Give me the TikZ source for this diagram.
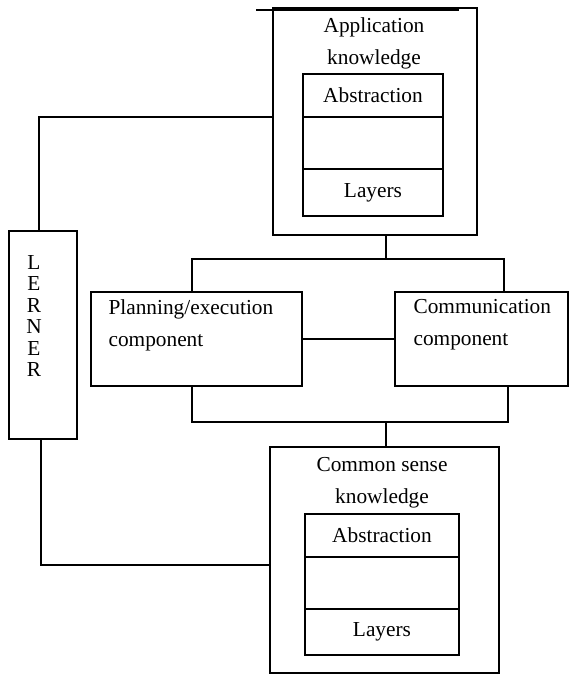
\documentclass[tikz,border=0pt]{standalone}
\usepackage{fontspec}
\setmainfont{Liberation Serif}
\usetikzlibrary{positioning}

\begin{document}
\begin{tikzpicture}[x=0.75pt, y=-0.75pt, line width=0.8pt,
    box/.style={draw, rectangle, inner sep=0pt},
    cell/.style={draw, rectangle, inner sep=0pt, outer sep=0pt, minimum width=#1},
    txt/.style={font=\fontsize{16}{24}\selectfont, inner sep=0pt}]
    \useasboundingbox (0,0) rectangle (570,675);

    % application knowledge
    \node[box, minimum width=153pt, minimum height=170.25pt] (app) at (375,121.5) {};
    \node[txt, align=center] (apptitle) at (374,43) {Application\\knowledge};
    \node[cell=105pt, minimum height=32.25pt, txt] (absA) at (373,95.5) {Abstraction};
    \node[cell=105pt, minimum height=39pt, below=0pt of absA] (midA) {};
    \node[cell=105pt, minimum height=35.25pt, txt, below=0pt of midA] (layA) {Layers};
    \coordinate (tlA) at (256,10);
    \coordinate (tlB) at (459,10);
    \draw[line width=1.6pt] (tlA) -- (tlB);

    % learner
    \node[box, minimum width=51pt, minimum height=156pt] (lrn) at (43,335) {};
    \node[txt, font=\fontsize{16}{16.1}\selectfont, align=center] (lrntxt) at (34,316) {L\\E\\R\\N\\E\\R};

    % components
    \node[box, minimum width=158.25pt, minimum height=70.5pt] (plan) at (196.5,339) {};
    \node[txt, align=left, anchor=west] (plantxt) at (108,325) {Planning/execution\\component};
    \node[box, minimum width=129.75pt, minimum height=70.5pt] (comm) at (481.5,339) {};
    \node[txt, align=left, anchor=west] (commtxt) at (413,325) {Communication\\component};

    % common sense knowledge
    \node[box, minimum width=171.75pt, minimum height=169.5pt] (com) at (384.5,560) {};
    \node[txt, align=center] (comtitle) at (382,483) {Common sense\\knowledge};
    \node[cell=115.5pt, minimum height=32.25pt, txt] (absB) at (382,535.5) {Abstraction};
    \node[cell=115.5pt, minimum height=39pt, below=0pt of absB] (midB) {};
    \node[cell=115.5pt, minimum height=34.5pt, txt, below=0pt of midB] (layB) {Layers};

    % connectors
    \coordinate (tbus) at (386,259);
    \coordinate (bbus) at (386,422);
    \draw (app.south -| tbus) -- (tbus);
    \draw (plan.north -| 192,0) |- (tbus) -| (comm.north -| 504,0);
    \draw (plan.south -| 192,0) |- (bbus) -| (comm.south -| 508,0);
    \draw (bbus) -- (com.north -| bbus);
    \draw (plan.east) -- (comm.west);
    \draw (lrn.north -| 39,0) |- (app.west |- 0,117);
    \draw (lrn.south -| 41,0) |- (com.west |- 0,565);
\end{tikzpicture}
\end{document}
